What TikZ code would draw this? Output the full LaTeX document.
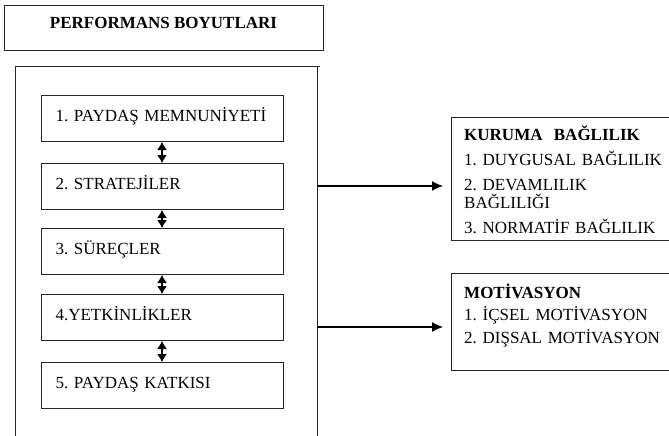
\documentclass[tikz,border=0pt]{standalone}
\usepackage{fontspec}
\setmainfont{Liberation Serif}
\frenchspacing
\usetikzlibrary{arrows.meta,positioning}

\tikzset{
  frame/.style={draw=black!85, line width=1pt},
  titlebox/.style={frame, minimum width=319pt, minimum height=45pt, inner sep=0pt,
    font=\bfseries\fontsize{17}{20}\selectfont, text height=12pt, text depth=11pt},
  dimbox/.style={frame, anchor=north west, minimum width=242pt, minimum height=46pt,
    inner sep=0pt, text width=214pt, align=left,
    font=\fontsize{17}{20}\selectfont, text height=12pt, text depth=7pt},
  panel/.style={frame, anchor=north west, minimum width=240pt, inner sep=0pt},
  paneltext/.style={anchor=north west, inner sep=0pt, text width=215pt, align=left,
    font=\fontsize{17}{18}\selectfont, text height=11pt},
  both/.style={{Latex[length=8pt,width=10pt]}-{Latex[length=8pt,width=10pt]}, line width=1.1pt},
  toright/.style={-{Latex[length=11pt,width=10pt]}, line width=1.1pt, shorten >=8pt},
}

\begin{document}
\begin{tikzpicture}[x=1pt, y=-1pt]
		%%%%% START %%%%%
		\clip (0, 0) rectangle (669, 436);
		
		\node[titlebox] (baslik) at (163.5, 28.5) {PERFORMANS BOYUTLARI};
		
		% open frame round the five dimensions
		\draw[frame] (15, 436) -- (15, 67) -- (320, 67);
		\draw[frame] (317, 67) -- (317, 436);
		\coordinate (cikis1) at (317, 186);
		\coordinate (cikis2) at (317, 327);
		
		\node[dimbox] (paydas) at (41, 95) {1. PAYDAŞ MEMNUNİYETİ};
		\node[dimbox] (strateji) at (41, 163) {2. STRATEJİLER};
		\node[dimbox] (surec) at (41, 228) {3. SÜREÇLER};
		\node[dimbox] (yetkin) at (41, 294) {4.YETKİNLİKLER};
		\node[dimbox] (katki) at (41, 362) {5. PAYDAŞ KATKISI};
		
		\draw[both] (paydas.south -| 162, 0) -- (strateji.north -| 162, 0);
		\draw[both] (strateji.south -| 162, 0) -- (surec.north -| 162, 0);
		\draw[both] (surec.south -| 162, 0) -- (yetkin.north -| 162, 0);
		\draw[both] (yetkin.south -| 162, 0) -- (katki.north -| 162, 0);
		
		% right hand panels, cut off by the page edge
		\node[panel, minimum height=123pt] (kurum) at (451, 117) {};
		\node[paneltext] (kurumyazi) at (464, 129) {\textbf{KURUMA\ \ BAĞLILIK}\\[7pt]
			1. DUYGUSAL BAĞLILIK\\[7pt]
			2. DEVAMLILIK\\
			BAĞLILIĞI\\[7pt]
			3. NORMATİF BAĞLILIK};
		
		\node[panel, minimum height=97pt] (motiv) at (451, 273) {};
		\node[paneltext] (motivyazi) at (464, 287) {\textbf{MOTİVASYON}\\[4.5pt]
			1. İÇSEL MOTİVASYON\\[4.5pt]
			2. DIŞSAL MOTİVASYON};
		
		\draw[toright] (cikis1) -- (cikis1 -| kurum.west);
		\draw[toright] (cikis2) -- (cikis2 -| motiv.west);
		%%%%% END %%%%%
	\end{tikzpicture}
\end{document}
